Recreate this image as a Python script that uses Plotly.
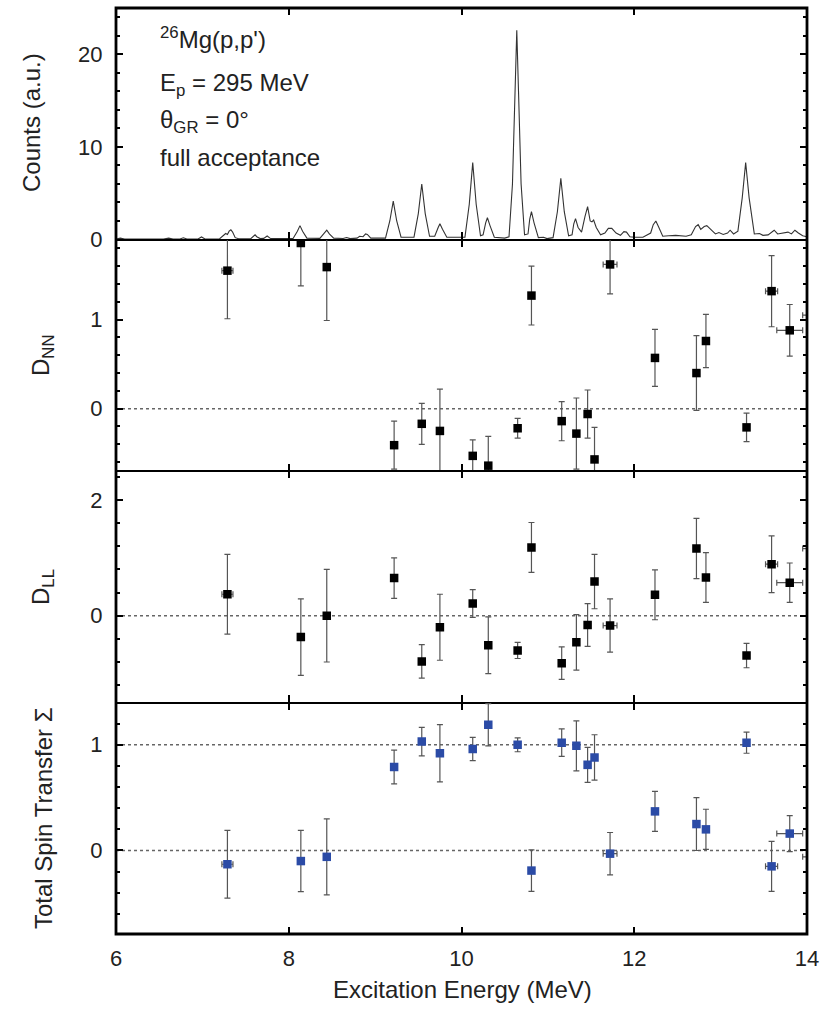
import plotly.graph_objects as go
from plotly.subplots import make_subplots

# ---------------- data ----------------
spec_e = [6.00, 6.05, 6.10, 6.55, 6.61, 6.66, 6.74, 6.78, 6.82, 6.95, 6.99, 7.03,
          7.20, 7.25, 7.27, 7.29, 7.31, 7.33, 7.35, 7.38, 7.42, 7.56, 7.59, 7.61,
          7.63, 7.67, 7.71, 7.75, 7.79, 8.05, 8.10, 8.13, 8.16, 8.21, 8.36, 8.41,
          8.44, 8.47, 8.52, 8.63, 8.67, 8.71, 8.79, 8.82, 8.86, 8.89, 8.91, 8.95,
          9.12, 9.17, 9.21, 9.25, 9.30, 9.45, 9.50, 9.54, 9.58, 9.63, 9.69, 9.73,
          9.75, 9.78, 9.83, 10.04, 10.09, 10.13, 10.17, 10.22, 10.25, 10.28, 10.30,
          10.33, 10.38, 10.50, 10.55, 10.59, 10.62, 10.64, 10.66, 10.69, 10.73,
          10.77, 10.79, 10.81, 10.84, 10.89, 10.95, 10.99, 11.06, 11.11, 11.15,
          11.19, 11.24, 11.28, 11.30, 11.32, 11.35, 11.39, 11.43, 11.46, 11.49,
          11.51, 11.53, 11.56, 11.61, 11.66, 11.70, 11.74, 11.79, 11.84, 11.88,
          11.91, 11.95, 12.00, 12.10, 12.19, 12.22, 12.25, 12.28, 12.33, 12.40,
          12.48, 12.60, 12.66, 12.71, 12.74, 12.77, 12.81, 12.84, 12.89, 12.94,
          12.98, 13.03, 13.08, 13.11, 13.15, 13.20, 13.25, 13.29, 13.33, 13.39,
          13.45, 13.49, 13.55, 13.62, 13.66, 13.72, 13.78, 13.82, 13.86, 13.90,
          13.95, 14.00]
spec_counts = [0.05, 0.15, 0.05, 0.05, 0.15, 0.05, 0.05, 0.18, 0.05, 0.05, 0.28, 0.05,
               0.08, 0.5, 0.65, 0.55, 0.9, 1.05, 0.8, 0.2, 0.08, 0.08, 0.4, 0.5,
               0.3, 0.1, 0.12, 0.38, 0.1, 0.1, 0.9, 1.5, 0.9, 0.15, 0.12, 0.7,
               1.0, 0.6, 0.15, 0.1, 0.22, 0.1, 0.15, 0.35, 0.3, 0.6, 0.55, 0.15,
               0.15, 2.0, 4.15, 2.0, 0.25, 0.25, 2.8, 6.0, 2.8, 0.35, 0.35, 1.3,
               1.7, 1.1, 0.25, 0.25, 3.8, 8.3, 3.8, 0.4, 0.5, 1.8, 2.35,
               1.5, 0.25, 0.15, 0.3, 6.0, 16.0, 22.6, 16.0, 6.0, 0.5,
               0.6, 2.2, 3.0, 1.8, 0.2, 0.25, 0.1, 0.2, 3.0, 6.6,
               3.0, 0.4, 0.5, 1.7, 2.25, 1.3, 0.8, 2.5, 3.55, 2.0,
               1.9, 2.1, 1.3, 0.5, 0.7, 1.2, 1.2, 0.7, 0.45, 0.85,
               0.8, 0.3, 0.25, 0.25, 0.7, 1.6, 2.0, 1.4, 0.35, 0.4,
               0.45, 0.35, 0.5, 1.4, 1.6, 1.1, 1.4, 1.5, 1.0, 0.6,
               0.75, 0.55, 0.7, 1.0, 0.6, 0.9, 4.5, 8.3, 4.5, 0.6,
               0.65, 0.45, 0.5, 1.0, 0.6, 0.7, 0.8, 0.6, 1.0, 0.7,
               0.4, 0.3]

# level energies (MeV) shared by the three polarization panels
levels_e = [7.29, 8.14, 8.44, 9.22, 9.54, 9.75, 10.13, 10.31, 10.65, 10.81, 11.16,
            11.33, 11.46, 11.54, 11.72, 12.24, 12.72, 12.83, 13.30, 13.59, 13.80, 14.05]
levels_e_err = [0.064, 0, 0, 0, 0, 0, 0, 0, 0, 0, 0,
                0, 0, 0, 0.08, 0, 0, 0, 0, 0.07, 0.15, 0.1]

dnn = [1.55, 1.86, 1.59, -0.41, -0.17, -0.25, -0.53, -0.64, -0.22, 1.27, -0.14,
       -0.28, -0.06, -0.57, 1.62, 0.57, 0.40, 0.76, -0.21, 1.32, 0.88, 1.05]
dnn_err = [0.54, 0.48, 0.60, 0.27, 0.23, 0.47, 0.18, 0.33, 0.11, 0.33, 0.22,
           0.40, 0.27, 0.36, 0.33, 0.32, 0.42, 0.30, 0.16, 0.40, 0.29, 0.3]

dll = [0.37, -0.37, 0.0, 0.65, -0.79, -0.20, 0.21, -0.51, -0.60, 1.18, -0.82,
       -0.46, -0.16, 0.59, -0.17, 0.36, 1.16, 0.66, -0.69, 0.89, 0.57, 1.16]
dll_err = [0.69, 0.66, 0.80, 0.35, 0.29, 0.57, 0.24, 0.49, 0.14, 0.43, 0.28,
           0.48, 0.37, 0.47, 0.46, 0.43, 0.52, 0.43, 0.21, 0.49, 0.34, 0.4]

sigma = [-0.13, -0.10, -0.06, 0.79, 1.03, 0.92, 0.96, 1.19, 1.00, -0.19, 1.02,
         0.99, 0.81, 0.88, -0.03, 0.37, 0.25, 0.20, 1.02, -0.15, 0.16, -0.06]
sigma_err = [0.32, 0.29, 0.36, 0.16, 0.135, 0.27, 0.11, 0.20, 0.066, 0.196, 0.13,
             0.236, 0.165, 0.215, 0.20, 0.19, 0.25, 0.19, 0.10, 0.236, 0.17, 0.2]

x_ticks = [6, 8, 10, 12, 14]

# ---------------- figure ----------------
FONT = "Liberation Sans, Arial, sans-serif"
W, H = 827, 1014
L, R, T, B = 116, 20, 8, 80
PW, PH = W - L - R, H - T - B


def px_x(px):
    return (px - L) / PW


def px_y(py):
    return (H - B - py) / PH


fig = make_subplots(rows=4, cols=1, shared_xaxes=True, vertical_spacing=0)

fig.add_trace(go.Scatter(x=spec_e, y=spec_counts, mode="lines",
                         line=dict(color="#333333", width=1.1),
                         showlegend=False), row=1, col=1)

err_style = dict(type="data", visible=True, color="#555555", thickness=1.2, width=3)

for row, vals, errs, col in [(2, dnn, dnn_err, "#000000"),
                             (3, dll, dll_err, "#000000"),
                             (4, sigma, sigma_err, "#2B4BA6")]:
    fig.add_trace(go.Scatter(
        x=levels_e, y=vals, mode="markers",
        marker=dict(symbol="square", size=8.5, color=col,
                    line=dict(color=col, width=0)),
        error_y=dict(array=errs, **err_style),
        error_x=dict(array=levels_e_err, **err_style),
        showlegend=False), row=row, col=1)

axis_common = dict(showline=True, linewidth=1.4, linecolor="black", mirror="ticks",
                   ticks="inside", ticklen=7, tickwidth=2, tickcolor="black",
                   showgrid=False, zeroline=False,
                   tickfont=dict(family=FONT, size=22, color="#222222"))

for r in range(1, 5):
    fig.update_xaxes(range=[6, 14], tickmode="array", tickvals=x_ticks,
                     ticktext=[str(v) for v in x_ticks],
                     showticklabels=(r == 4), ticklabelstandoff=4,
                     row=r, col=1, **axis_common)

minor_common = dict(ticks="inside", ticklen=4, tickwidth=1.5, tickcolor="black", showgrid=False)
fig.update_yaxes(range=[0, 25], tick0=0, dtick=10, minor=dict(dtick=2, **minor_common),
                 ticklabelstandoff=8, row=1, col=1, **axis_common)
fig.update_yaxes(range=[-0.7, 1.9], tick0=0, dtick=1, minor=dict(dtick=0.2, **minor_common),
                 ticklabelstandoff=8, row=2, col=1, **axis_common)
fig.update_yaxes(range=[-1.5, 2.5], tick0=0, dtick=2, minor=dict(dtick=0.4, **minor_common),
                 ticklabelstandoff=8, row=3, col=1, **axis_common)
fig.update_yaxes(range=[-0.79, 1.4], tick0=0, dtick=1, minor=dict(dtick=0.2, **minor_common),
                 ticklabelstandoff=8, row=4, col=1, **axis_common)

# dotted reference lines
for yref, yv in [("y2", 0), ("y3", 0), ("y4", 0), ("y4", 1)]:
    fig.add_shape(type="line", xref="paper", yref=yref, x0=0, x1=1, y0=yv, y1=yv,
                  line=dict(color="#666666", width=1.5, dash="dot"), layer="below")

# outer frame
fig.add_shape(type="rect", xref="paper", yref="paper", x0=0, x1=1, y0=0, y1=1,
              line=dict(color="black", width=2.8), layer="above")

txt_font = dict(family=FONT, size=24, color="#222222")
# panel text
for text, py in [("<sup>26</sup>Mg(p,p')", 38),
                 ("E<sub>p</sub> = 295 MeV", 84),
                 ("θ<sub>GR</sub> = 0°", 121),
                 ("full acceptance", 157)]:
    fig.add_annotation(text=text, xref="paper", yref="paper", x=px_x(158), y=px_y(py),
                       xanchor="left", yanchor="middle", showarrow=False, font=txt_font)

# y titles
for text, pxc, pyc in [("Counts (a.u.)", 31, 123),
                       ("D<sub>NN</sub>", 42, 355),
                       ("D<sub>LL</sub>", 42, 587),
                       ("Total Spin Transfer Σ", 43, 818)]:
    fig.add_annotation(text=text, xref="paper", yref="paper", x=px_x(pxc), y=px_y(pyc),
                       xanchor="center", yanchor="middle", textangle=-90,
                       showarrow=False, font=txt_font)

fig.add_annotation(text="Excitation Energy (MeV)", xref="paper", yref="paper",
                   x=px_x(462), y=px_y(989), xanchor="center", yanchor="middle",
                   showarrow=False, font=txt_font)

fig.update_layout(width=W, height=H, margin=dict(l=L, r=R, t=T, b=B),
                  paper_bgcolor="white", plot_bgcolor="white",
                  font=dict(family=FONT, color="#222222"))

fig.write_html("out.html")
